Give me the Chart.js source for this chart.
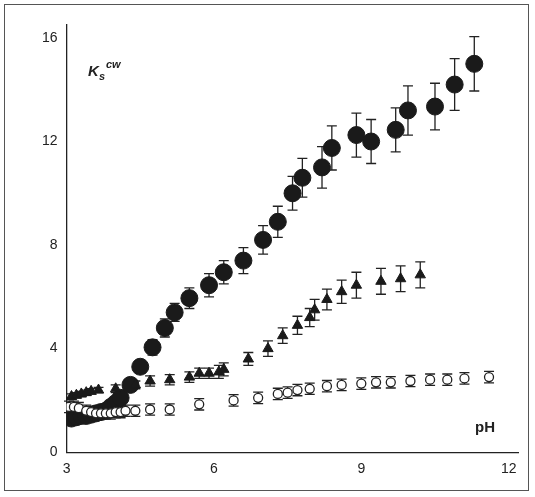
<!DOCTYPE html>
<html>
<head>
<meta charset="utf-8">
<script src="https://cdn.jsdelivr.net/npm/chart.js@4"></script>
<style>
  body { margin: 0; background: #fff; }
  #wrap { position: absolute; left: 4px; top: 4px; width: 525px; height: 487px; border: 1px solid #555; box-sizing: border-box; }
</style>
</head>
<body>
<div id="wrap"><canvas id="c"></canvas></div>
<script>
// Datos: pH, Ks y semiancho de la barra de error
const filledPH = [3.1,3.2,3.3,3.4,3.5,3.6,3.7,3.8,3.9,4.0,4.1,4.3,4.5,4.75,5.0,5.2,5.5,5.9,6.2,6.6,7.0,7.3,7.6,7.8,8.2,8.4,8.9,9.2,9.7,9.95,10.5,10.9,11.3];
const filledK  = [1.3,1.35,1.4,1.4,1.45,1.5,1.55,1.6,1.75,1.9,2.1,2.6,3.3,4.05,4.8,5.4,5.95,6.45,6.95,7.4,8.2,8.9,10.0,10.6,11.0,11.75,12.25,12.0,12.45,13.2,13.35,14.2,15.0];
const filledErr = [0.1,0.1,0.1,0.1,0.1,0.1,0.1,0.1,0.15,0.15,0.2,0.2,0.25,0.3,0.35,0.35,0.4,0.45,0.45,0.5,0.55,0.6,0.65,0.75,0.8,0.85,0.85,0.85,0.85,0.95,0.9,1.0,1.05];

const triPH = [3.1,3.2,3.3,3.4,3.5,3.65,4.0,4.4,4.7,5.1,5.5,5.7,5.9,6.1,6.2,6.7,7.1,7.4,7.7,7.95,8.05,8.3,8.6,8.9,9.4,9.8,10.2];
const triK  = [2.15,2.2,2.25,2.3,2.35,2.4,2.45,2.6,2.75,2.8,2.9,3.05,3.05,3.1,3.2,3.6,4.0,4.5,4.9,5.2,5.5,5.9,6.2,6.45,6.6,6.7,6.85];
const triErr = [0.1,0.1,0.1,0.1,0.1,0.1,0.15,0.15,0.2,0.2,0.2,0.2,0.2,0.25,0.25,0.25,0.3,0.3,0.35,0.35,0.4,0.4,0.45,0.5,0.5,0.5,0.5];

const openPH = [3.05,3.15,3.25,3.4,3.5,3.6,3.7,3.8,3.9,4.0,4.1,4.2,4.4,4.7,5.1,5.7,6.4,6.9,7.3,7.5,7.7,7.95,8.3,8.6,9.0,9.3,9.6,10.0,10.4,10.75,11.1,11.6];
const openK  = [1.75,1.75,1.7,1.6,1.55,1.5,1.5,1.5,1.5,1.55,1.55,1.6,1.6,1.65,1.65,1.85,2.0,2.1,2.25,2.3,2.4,2.45,2.55,2.6,2.65,2.7,2.7,2.75,2.8,2.8,2.85,2.9];
const openErr = 0.22;

const xTicks = [3, 6, 9, 12];
const yTicks = [0, 4, 8, 12, 16];

function pts(xs, ys, errs) {
    return xs.map((x, i) => ({ x: x, y: ys[i], e: Array.isArray(errs) ? errs[i] : errs }));
}

// Barras de error con tope
const errorBars = {
    id: 'errorBars',
    beforeDatasetsDraw(chart) {
        const { ctx, scales: { x, y } } = chart;
        ctx.save();
        ctx.strokeStyle = '#222';
        ctx.lineWidth = 1.3;
        chart.data.datasets.forEach(ds => {
            ds.data.forEach(p => {
                const px = x.getPixelForValue(p.x);
                const top = y.getPixelForValue(p.y + p.e);
                const bot = y.getPixelForValue(p.y - p.e);
                ctx.beginPath();
                ctx.moveTo(px, top); ctx.lineTo(px, bot);
                ctx.moveTo(px - 5, top); ctx.lineTo(px + 5, top);
                ctx.moveTo(px - 5, bot); ctx.lineTo(px + 5, bot);
                ctx.stroke();
            });
        });
        ctx.restore();
    }
};

const labels = {
    id: 'labels',
    afterDraw(chart) {
        const { ctx } = chart;
        ctx.save();
        ctx.fillStyle = '#222';
        ctx.font = "italic bold 15px 'Liberation Sans', Arial, sans-serif";
        ctx.fillText('K', 83, 71);
        ctx.font = "italic bold 11px 'Liberation Sans', Arial, sans-serif";
        ctx.fillText('s', 94, 75);
        ctx.fillText('cw', 101, 63);
        ctx.font = "bold 15px 'Liberation Sans', Arial, sans-serif";
        ctx.fillText('pH', 470, 427);
        ctx.restore();
    }
};

new Chart(document.getElementById('c'), {
    type: 'scatter',
    data: {
        datasets: [
            { data: pts(openPH, openK, openErr), pointStyle: 'circle', pointRadius: 4.5, borderColor: '#222', borderWidth: 1.3, backgroundColor: '#fff' },
            { data: pts(triPH, triK, triErr), pointStyle: 'triangle', pointRadius: 6, borderColor: '#1a1a1a', borderWidth: 1, backgroundColor: '#1a1a1a' },
            { data: pts(filledPH, filledK, filledErr), pointStyle: 'circle', pointRadius: 8.5, borderColor: '#1a1a1a', borderWidth: 1, backgroundColor: '#1a1a1a' }
        ]
    },
    options: {
        responsive: true,
        maintainAspectRatio: false,
        animation: false,
        layout: { padding: { top: 20, right: 0, left: 34, bottom: 9 } },
        plugins: { legend: { display: false }, tooltip: { enabled: false } },
        scales: {
            x: {
                type: 'linear', min: 3, max: 12.2,
                afterBuildTicks: ax => { ax.ticks = xTicks.map(v => ({ value: v })); },
                grid: { display: false, drawTicks: true, tickLength: 6 },
                border: { color: '#222', width: 1.3 },
                ticks: { color: '#222', font: { size: 14, family: "'Liberation Sans', Arial" } }
            },
            y: {
                min: 0, max: 16.5,
                afterBuildTicks: ax => { ax.ticks = yTicks.map(v => ({ value: v })); },
                grid: { display: false, tickLength: 6 },
                border: { color: '#222', width: 1.3 },
                ticks: { color: '#222', font: { size: 14, family: "'Liberation Sans', Arial" } }
            }
        }
    },
    plugins: [errorBars, labels]
});
</script>
</body>
</html>
